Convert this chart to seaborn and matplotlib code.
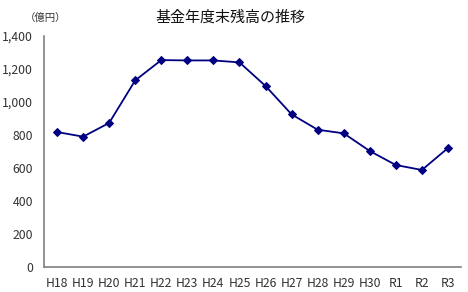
import matplotlib
matplotlib.use("Agg")
import matplotlib.pyplot as plt
import seaborn as sns
import pandas as pd
import numpy as np
from matplotlib.ticker import FixedLocator, FuncFormatter

years = ["H18", "H19", "H20", "H21", "H22", "H23", "H24", "H25", "H26", "H27",
         "H28", "H29", "H30", "R1", "R2", "R3"]
values = [818, 790, 873, 1131, 1254, 1252, 1252, 1240, 1097, 925,
          832, 810, 703, 618, 588, 721]
yticks = [0, 200, 400, 600, 800, 1000, 1200, 1400]

sns.set_theme(style="white")
plt.rcParams['font.family'] = ['Noto Sans CJK JP', 'DejaVu Sans']

df = pd.DataFrame({"year": years, "value": values, "pos": np.arange(len(years))})

fig = plt.figure(figsize=(4.68, 2.92), dpi=100)
ax = fig.add_axes([44/468, 25/292, (461-44)/468, (267-36)/292])

sns.lineplot(data=df, x="pos", y="value", ax=ax, color="#000080",
             marker="D", markersize=4, linewidth=1.3, markeredgecolor="#000080")

ax.set_xlim(-0.5, len(years) - 0.5)
ax.set_ylim(0, 1400)
ax.set_yticks(yticks)
ax.yaxis.set_major_formatter(FuncFormatter(lambda v, p: f"{int(v):,}"))
ax.set_xticks(np.arange(len(years)))
ax.set_xticklabels(years)
ax.xaxis.set_minor_locator(FixedLocator(np.arange(0.5, len(years) - 0.5 + 0.01, 1)))
ax.tick_params(axis="x", which="major", length=0, labelsize=8.8, colors="#333333", pad=7)
ax.tick_params(axis="x", which="minor", length=3, direction="in", color="#808080", width=1)
ax.tick_params(axis="y", which="major", length=5, direction="out", color="#808080",
               labelsize=8.8, colors="#333333", pad=3)
for s in ["top", "right"]:
    ax.spines[s].set_visible(False)
for s in ["left", "bottom"]:
    ax.spines[s].set_color("#808080")
    ax.spines[s].set_linewidth(1.2)
ax.set_xlabel("")
ax.set_ylabel("")

fig.text(230/468, 1 - 18/292, "基金年度末残高の推移", ha="center", va="center",
         fontsize=10.8, color="#111111")
fig.text(46/468, 1 - 18/292, "（億円）", ha="center", va="center",
         fontsize=7.5, color="#333333")

fig.savefig("out.png", dpi=100)
